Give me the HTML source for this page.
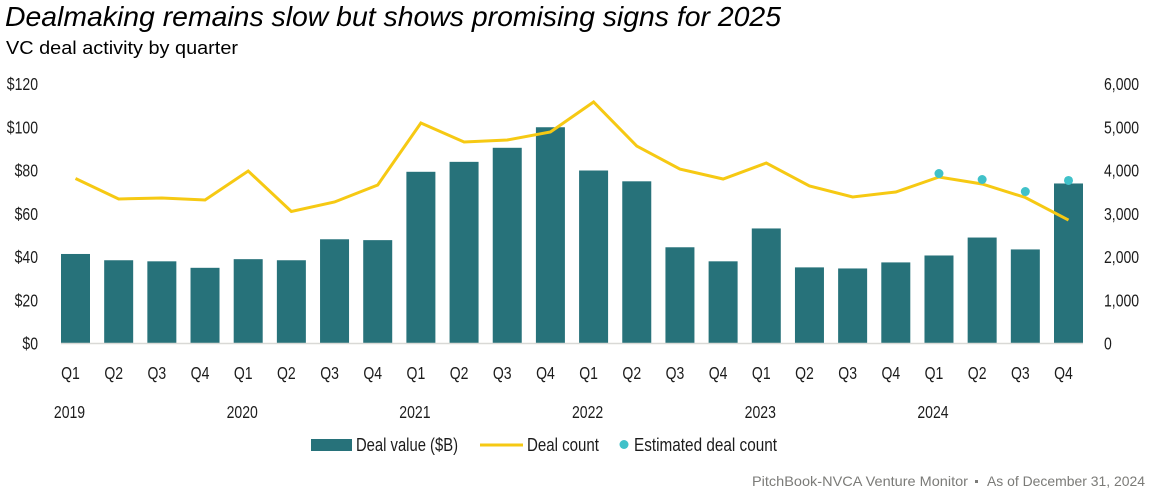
<!DOCTYPE html>
<html lang="en">
<head>
<meta charset="utf-8">
<title>Dealmaking remains slow but shows promising signs for 2025</title>
<style>
html,body{margin:0;padding:0;background:#fff;width:1156px;height:498px;overflow:hidden}
svg{display:block}
text{font-family:"Liberation Sans",sans-serif;fill:#1c1c1c}
</style>
</head>
<body>
<svg id="chart" width="1156" height="498" viewBox="0 0 1156 498" xmlns="http://www.w3.org/2000/svg">
  <text x="5" y="26" font-size="28" font-style="italic" textLength="776" lengthAdjust="spacingAndGlyphs" style="fill:#000">Dealmaking remains slow but shows promising signs for 2025</text>
  <text x="6" y="54" font-size="18.5" textLength="232" lengthAdjust="spacingAndGlyphs" style="fill:#000">VC deal activity by quarter</text>
  <g id="bars"></g>
  <line x1="61" x2="1083" y1="343.5" y2="343.5" stroke="#d9d9d6" stroke-width="1.4"/>
  <g id="lineLayer"></g>
  <g id="dots"></g>
  <g id="leftAxis"></g>
  <g id="rightAxis"></g>
  <g id="xAxis"></g>
  <g>
    <g>
      <rect x="311" y="439" width="41" height="12" fill="#27727a"/>
      <text x="356" y="451" font-size="18" textLength="102" lengthAdjust="spacingAndGlyphs">Deal value ($B)</text>
    </g>
    <g>
      <line x1="480" x2="523" y1="445" y2="445" stroke="#f6c913" stroke-width="3"/>
      <text x="527" y="451" font-size="18" textLength="72" lengthAdjust="spacingAndGlyphs">Deal count</text>
    </g>
    <g>
      <circle cx="624" cy="444.5" r="4.5" fill="#40c1c9"/>
      <text x="634" y="451" font-size="18" textLength="143" lengthAdjust="spacingAndGlyphs">Estimated deal count</text>
    </g>
  </g>
  <g>
    <text x="752" y="486" font-size="14" textLength="216" lengthAdjust="spacingAndGlyphs" style="fill:#7b7b78">PitchBook-NVCA Venture Monitor</text>
    <rect x="975" y="480" width="3" height="3" fill="#7b7b78"/>
    <text x="987" y="486" font-size="14" textLength="158" lengthAdjust="spacingAndGlyphs" style="fill:#7b7b78">As of December 31, 2024</text>
  </g>
</svg>
<script>
const quarters = ["Q1","Q2","Q3","Q4","Q1","Q2","Q3","Q4","Q1","Q2","Q3","Q4","Q1","Q2","Q3","Q4","Q1","Q2","Q3","Q4","Q1","Q2","Q3","Q4"];
const years = ["2019","2020","2021","2022","2023","2024"];
const dealValue = [41.4,38.5,38,35,39,38.5,48.2,47.8,79.4,84,90.5,100,80,75,44.5,38,53.2,35.2,34.7,37.5,40.7,49,43.5,74];
const dealCount = [3815,3341,3364,3318,3988,3052,3272,3665,5098,4659,4705,4890,5584,4566,4034,3803,4173,3642,3387,3503,3850,3688,3376,2855];
const estimatedCount = [3930,3792,3514,3769];
const leftTicks = [0,20,40,60,80,100,120];
const rightTicks = [0,1000,2000,3000,4000,5000,6000];

const NS = "http://www.w3.org/2000/svg";
const plotBottom = 343.5, plotTop = 84;
const xScale = i => 75.5 + i * (1068.5 - 75.5) / (quarters.length - 1);
const yLeft = v => plotBottom - v / 120 * (plotBottom - plotTop);
const yRight = v => plotBottom - v / 6000 * (plotBottom - plotTop);

function make(tag, attrs, parent) {
  const el = document.createElementNS(NS, tag);
  for (const k in attrs) el.setAttribute(k, attrs[k]);
  parent.appendChild(el);
  return el;
}
function label(parent, x, y, str, anchor) {
  const t = make("text", {transform: "translate(" + x + "," + y + ") scale(.78,1)", "font-size": 18, "text-anchor": anchor}, parent);
  t.textContent = str;
  return t;
}

const barsG = document.getElementById("bars");
dealValue.forEach((v, i) => {
  const r = make("rect", {x: xScale(i) - 14.5, y: yLeft(v), width: 29, height: plotBottom - yLeft(v), fill: "#27727a"}, barsG);
  
  
});

const lineG = document.getElementById("lineLayer");
const countLine = make("polyline", {
  points: dealCount.map((v, i) => xScale(i) + "," + yRight(v)).join(" "),
  fill: "none", stroke: "#f6c913", "stroke-width": 3, "stroke-linejoin": "miter"
}, lineG);



const dotsG = document.getElementById("dots");
const dotStart = quarters.length - estimatedCount.length;
estimatedCount.forEach((v, i) => {
  const c = make("circle", {cx: xScale(dotStart + i), cy: yRight(v), r: 4.5, fill: "#40c1c9"}, dotsG);
  
  
});

const leftG = document.getElementById("leftAxis");
leftTicks.forEach(v => {
  const t = label(leftG, 38, yLeft(v) + 6, "$" + v, "end");
  
  
});

const rightG = document.getElementById("rightAxis");
rightTicks.forEach(v => {
  const t = label(rightG, 1104, yRight(v) + 6, v.toLocaleString("en-US"), "start");
  
  
});

const xG = document.getElementById("xAxis");
quarters.forEach((q, i) => {
  const t = label(xG, xScale(i) - 5, 379, q, "middle");
  
  
});
years.forEach((y, i) => {
  const t = label(xG, xScale(i * 4) - 6, 418, y, "middle");
  
  
});
</script>
</body>
</html>
